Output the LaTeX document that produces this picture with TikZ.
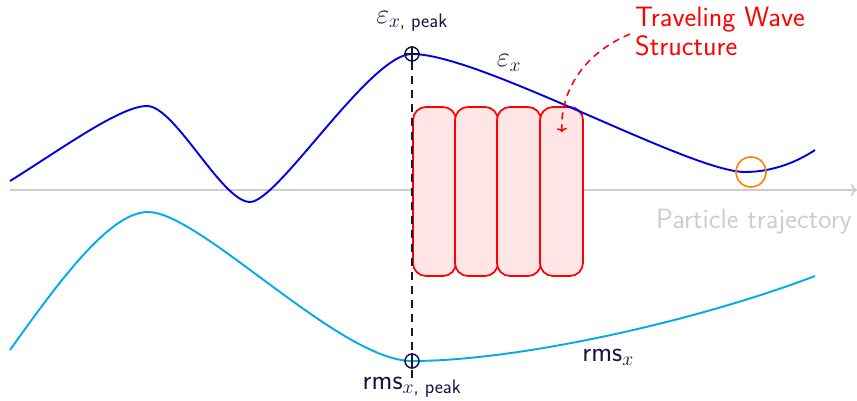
\documentclass[tikz,border=0pt]{standalone}
\usepackage{fix-cm}
\usepackage{amsmath}
\usepackage{fontspec}
\usetikzlibrary{arrows.meta}
\definecolor{navy}{RGB}{20,20,70}
\definecolor{cblue}{RGB}{0,0,235}
\definecolor{ccyan}{RGB}{0,170,235}
\definecolor{cgray}{RGB}{205,205,205}
\definecolor{corange}{RGB}{255,130,0}
\tikzset{
  curve/.style={line width=1.9pt},
  wavebox/.style={draw=red, fill=red!10, line width=1.7pt, rounded corners=13pt},
  peakmark/.style={circle, draw=navy, line width=1.5pt, minimum size=14pt, inner sep=0pt},
  lbl/.style={text=navy, font=\sffamily\fontsize{28}{32}\selectfont, inner sep=0pt},
}
\begin{document}
\begin{tikzpicture}[x=1pt,y=-1pt]
\useasboundingbox (0,0) rectangle (857,401);
% axis
\coordinate (axs) at (10,190);
\coordinate (axe) at (857,190);
\draw[cgray, line width=1.7pt, -{To[length=6pt,width=12pt]}] (axs) -- (axe);
\node[text=cgray, font=\sffamily\fontsize{28}{32}\selectfont, inner sep=0pt] (pt) at (754,222) {Particle trajectory};
% wave structure boxes
\foreach \i/\xa/\xb in {1/413/456, 2/455/498, 3/497/541, 4/540/583}{
  \draw[wavebox] (\xa,107) rectangle (\xb,276);
}
% dashed vertical line
\coordinate (dtop) at (412,62);
\coordinate (dbot) at (412,381);
\draw[navy, line width=1.7pt, dash pattern=on 8pt off 6pt] (dtop) -- (dbot);
% epsilon curve
\draw[cblue, curve] (10,181) .. controls (60,150) and (120,106) .. (147,106)
  .. controls (175,106) and (222,202) .. (250,202)
  .. controls (278,202) and (370,54) .. (412,54)
  .. controls (480,54) and (690,172) .. (745,172)
  .. controls (775,172) and (800,160) .. (815,150);
% rms curve
\draw[ccyan, curve] (10,350) .. controls (60,280) and (110,212) .. (148,212)
  .. controls (200,212) and (340,361) .. (412,361)
  .. controls (520,361) and (700,320) .. (815,276);
% peak markers
\node[peakmark] (pk1) at (412,54) {};
\draw[navy, line width=1.5pt] (pk1.west) -- (pk1.east) (pk1.north) -- (pk1.south);
\node[peakmark] (pk2) at (412,361) {};
\draw[navy, line width=1.5pt] (pk2.north) -- (pk2.south);
% orange circle
\node[circle, draw=corange, line width=1.6pt, minimum size=30pt, inner sep=0pt] (oc) at (751,172) {};
% labels
\node[lbl] (epk) at (412,21) {$\varepsilon_{x\text{, \textsf{peak}}}$};
\node[lbl] (ex) at (509,63) {$\varepsilon_{x}$};
\node[lbl] (rx) at (608,357) {rms$_{x}$};
\node[lbl] (rpk) at (412,387) {rms$_{x\text{, \textsf{peak}}}$};
% traveling wave label
\node[text=red, font=\sffamily\fontsize{28}{29}\selectfont, align=left, anchor=north west, inner sep=0pt] (tw) at (635,7) {Traveling Wave\\Structure};
\coordinate (tip) at (562,132);
\draw[red, line width=1.5pt, dash pattern=on 7pt off 5pt, -{To[length=4pt,width=10pt]}] (630,34) .. controls (580,55) and (560,95) .. (tip);
\end{tikzpicture}
\end{document}
